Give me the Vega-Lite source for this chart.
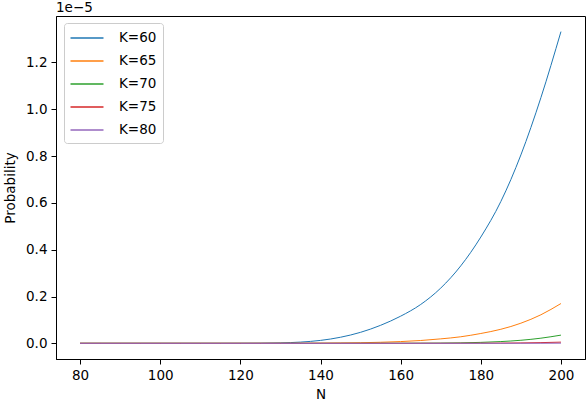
{
  "$schema": "https://vega.github.io/schema/vega-lite/v6.json",
  "width": 529,
  "height": 343,
  "autosize": "none",
  "padding": {"left": 56, "top": 16, "right": 1, "bottom": 45},
  "background": "white",
  "title": {"text": "1e\u22125", "anchor": "start", "frame": "group", "fontSize": 13.5, "fontWeight": "normal", "offset": 2, "color": "black"},
  "config": {
    "font": "DejaVu Sans",
    "view": {"stroke": "black", "strokeWidth": 1},
    "axis": {
      "domainColor": "black",
      "tickColor": "black",
      "tickSize": 5,
      "labelPadding": 4,
      "labelFontSize": 13.5,
      "labelColor": "black",
      "titleFontSize": 13.5,
      "titleFontWeight": "normal",
      "titleColor": "black",
      "grid": false
    }
  },
  "data": {
    "values": [
      {"N": 80, "K": "K=60", "p": 0}, {"N": 85, "K": "K=60", "p": 0}, {"N": 90, "K": "K=60", "p": 0},
      {"N": 95, "K": "K=60", "p": 0}, {"N": 100, "K": "K=60", "p": 0}, {"N": 105, "K": "K=60", "p": 1e-11},
      {"N": 110, "K": "K=60", "p": 4e-11}, {"N": 115, "K": "K=60", "p": 2e-10}, {"N": 120, "K": "K=60", "p": 1.2e-9},
      {"N": 125, "K": "K=60", "p": 5e-9}, {"N": 130, "K": "K=60", "p": 1.8e-8}, {"N": 135, "K": "K=60", "p": 5.2e-8},
      {"N": 140, "K": "K=60", "p": 1.25e-7}, {"N": 145, "K": "K=60", "p": 2.6e-7}, {"N": 150, "K": "K=60", "p": 4.7e-7},
      {"N": 155, "K": "K=60", "p": 7.7e-7}, {"N": 160, "K": "K=60", "p": 1.16e-6}, {"N": 165, "K": "K=60", "p": 1.66e-6},
      {"N": 170, "K": "K=60", "p": 2.36e-6}, {"N": 175, "K": "K=60", "p": 3.31e-6}, {"N": 180, "K": "K=60", "p": 4.54e-6},
      {"N": 185, "K": "K=60", "p": 6.06e-6}, {"N": 190, "K": "K=60", "p": 8.05e-6}, {"N": 195, "K": "K=60", "p": 1.05e-5},
      {"N": 200, "K": "K=60", "p": 1.332e-5},

      {"N": 80, "K": "K=65", "p": 0}, {"N": 85, "K": "K=65", "p": 0}, {"N": 90, "K": "K=65", "p": 0},
      {"N": 95, "K": "K=65", "p": 0}, {"N": 100, "K": "K=65", "p": 0}, {"N": 105, "K": "K=65", "p": 0},
      {"N": 110, "K": "K=65", "p": 0}, {"N": 115, "K": "K=65", "p": 0}, {"N": 120, "K": "K=65", "p": 0},
      {"N": 125, "K": "K=65", "p": 3e-10}, {"N": 130, "K": "K=65", "p": 1e-9}, {"N": 135, "K": "K=65", "p": 3e-9},
      {"N": 140, "K": "K=65", "p": 7e-9}, {"N": 145, "K": "K=65", "p": 1.4e-8}, {"N": 150, "K": "K=65", "p": 2.5e-8},
      {"N": 155, "K": "K=65", "p": 4.5e-8}, {"N": 160, "K": "K=65", "p": 7.5e-8}, {"N": 165, "K": "K=65", "p": 1.2e-7},
      {"N": 170, "K": "K=65", "p": 1.9e-7}, {"N": 175, "K": "K=65", "p": 2.8e-7}, {"N": 180, "K": "K=65", "p": 4.2e-7},
      {"N": 185, "K": "K=65", "p": 6.0e-7}, {"N": 190, "K": "K=65", "p": 8.6e-7}, {"N": 195, "K": "K=65", "p": 1.22e-6},
      {"N": 200, "K": "K=65", "p": 1.70e-6},

      {"N": 80, "K": "K=70", "p": 0}, {"N": 85, "K": "K=70", "p": 0}, {"N": 90, "K": "K=70", "p": 0},
      {"N": 95, "K": "K=70", "p": 0}, {"N": 100, "K": "K=70", "p": 0}, {"N": 105, "K": "K=70", "p": 0},
      {"N": 110, "K": "K=70", "p": 0}, {"N": 115, "K": "K=70", "p": 0}, {"N": 120, "K": "K=70", "p": 0},
      {"N": 125, "K": "K=70", "p": 0}, {"N": 130, "K": "K=70", "p": 0}, {"N": 135, "K": "K=70", "p": 0},
      {"N": 140, "K": "K=70", "p": 0}, {"N": 145, "K": "K=70", "p": 5e-10}, {"N": 150, "K": "K=70", "p": 1e-9},
      {"N": 155, "K": "K=70", "p": 2e-9}, {"N": 160, "K": "K=70", "p": 4e-9}, {"N": 165, "K": "K=70", "p": 6.5e-9},
      {"N": 170, "K": "K=70", "p": 1.1e-8}, {"N": 175, "K": "K=70", "p": 2e-8}, {"N": 180, "K": "K=70", "p": 4e-8},
      {"N": 185, "K": "K=70", "p": 7.5e-8}, {"N": 190, "K": "K=70", "p": 1.3e-7}, {"N": 195, "K": "K=70", "p": 2.2e-7},
      {"N": 200, "K": "K=70", "p": 3.5e-7},

      {"N": 80, "K": "K=75", "p": 0}, {"N": 85, "K": "K=75", "p": 0}, {"N": 90, "K": "K=75", "p": 0},
      {"N": 95, "K": "K=75", "p": 0}, {"N": 100, "K": "K=75", "p": 0}, {"N": 105, "K": "K=75", "p": 0},
      {"N": 110, "K": "K=75", "p": 0}, {"N": 115, "K": "K=75", "p": 0}, {"N": 120, "K": "K=75", "p": 0},
      {"N": 125, "K": "K=75", "p": 0}, {"N": 130, "K": "K=75", "p": 0}, {"N": 135, "K": "K=75", "p": 0},
      {"N": 140, "K": "K=75", "p": 0}, {"N": 145, "K": "K=75", "p": 0}, {"N": 150, "K": "K=75", "p": 0},
      {"N": 155, "K": "K=75", "p": 0}, {"N": 160, "K": "K=75", "p": 0}, {"N": 165, "K": "K=75", "p": 5e-10},
      {"N": 170, "K": "K=75", "p": 1e-9}, {"N": 175, "K": "K=75", "p": 2.5e-9}, {"N": 180, "K": "K=75", "p": 5e-9},
      {"N": 185, "K": "K=75", "p": 9e-9}, {"N": 190, "K": "K=75", "p": 1.7e-8}, {"N": 195, "K": "K=75", "p": 3e-8},
      {"N": 200, "K": "K=75", "p": 5e-8},

      {"N": 80, "K": "K=80", "p": 0}, {"N": 85, "K": "K=80", "p": 0}, {"N": 90, "K": "K=80", "p": 0},
      {"N": 95, "K": "K=80", "p": 0}, {"N": 100, "K": "K=80", "p": 0}, {"N": 105, "K": "K=80", "p": 0},
      {"N": 110, "K": "K=80", "p": 0}, {"N": 115, "K": "K=80", "p": 0}, {"N": 120, "K": "K=80", "p": 0},
      {"N": 125, "K": "K=80", "p": 0}, {"N": 130, "K": "K=80", "p": 0}, {"N": 135, "K": "K=80", "p": 0},
      {"N": 140, "K": "K=80", "p": 0}, {"N": 145, "K": "K=80", "p": 0}, {"N": 150, "K": "K=80", "p": 0},
      {"N": 155, "K": "K=80", "p": 0}, {"N": 160, "K": "K=80", "p": 0}, {"N": 165, "K": "K=80", "p": 0},
      {"N": 170, "K": "K=80", "p": 0}, {"N": 175, "K": "K=80", "p": 1e-10}, {"N": 180, "K": "K=80", "p": 3e-10},
      {"N": 185, "K": "K=80", "p": 7e-10}, {"N": 190, "K": "K=80", "p": 1.5e-9}, {"N": 195, "K": "K=80", "p": 3e-9},
      {"N": 200, "K": "K=80", "p": 6e-9}
    ]
  },
  "mark": {"type": "line", "strokeWidth": 1, "interpolate": "monotone"},
  "encoding": {
    "x": {
      "field": "N",
      "type": "quantitative",
      "scale": {"domain": [74, 206], "nice": false, "zero": false},
      "axis": {"values": [80, 100, 120, 140, 160, 180, 200], "title": "N", "titlePadding": 6}
    },
    "y": {
      "field": "p",
      "type": "quantitative",
      "scale": {"domain": [-6.7e-7, 1.3987e-5], "nice": false, "zero": false},
      "axis": {
        "values": [0, 2e-6, 4e-6, 6e-6, 8e-6, 1e-5, 1.2e-5],
        "labelExpr": "format(datum.value * 100000, '.1f')",
        "title": "Probability",
        "titlePadding": 8
      }
    },
    "color": {
      "field": "K",
      "type": "nominal",
      "scale": {
        "domain": ["K=60", "K=65", "K=70", "K=75", "K=80"],
        "range": ["#1f77b4", "#ff7f0e", "#2ca02c", "#d62728", "#9467bd"]
      },
      "legend": {
        "title": null,
        "orient": "none",
        "legendX": 8,
        "legendY": 7,
        "fillColor": "white",
        "strokeColor": "#cccccc",
        "cornerRadius": 3,
        "padding": 6,
        "symbolType": "M-2,0L2,0",
        "symbolSize": 272,
        "symbolOffset": 8,
        "symbolStrokeWidth": 1.5,
        "symbolFillColor": "transparent",
        "labelFontSize": 13.5,
        "labelColor": "black",
        "labelOffset": 23,
        "rowPadding": 7
      }
    }
  }
}
